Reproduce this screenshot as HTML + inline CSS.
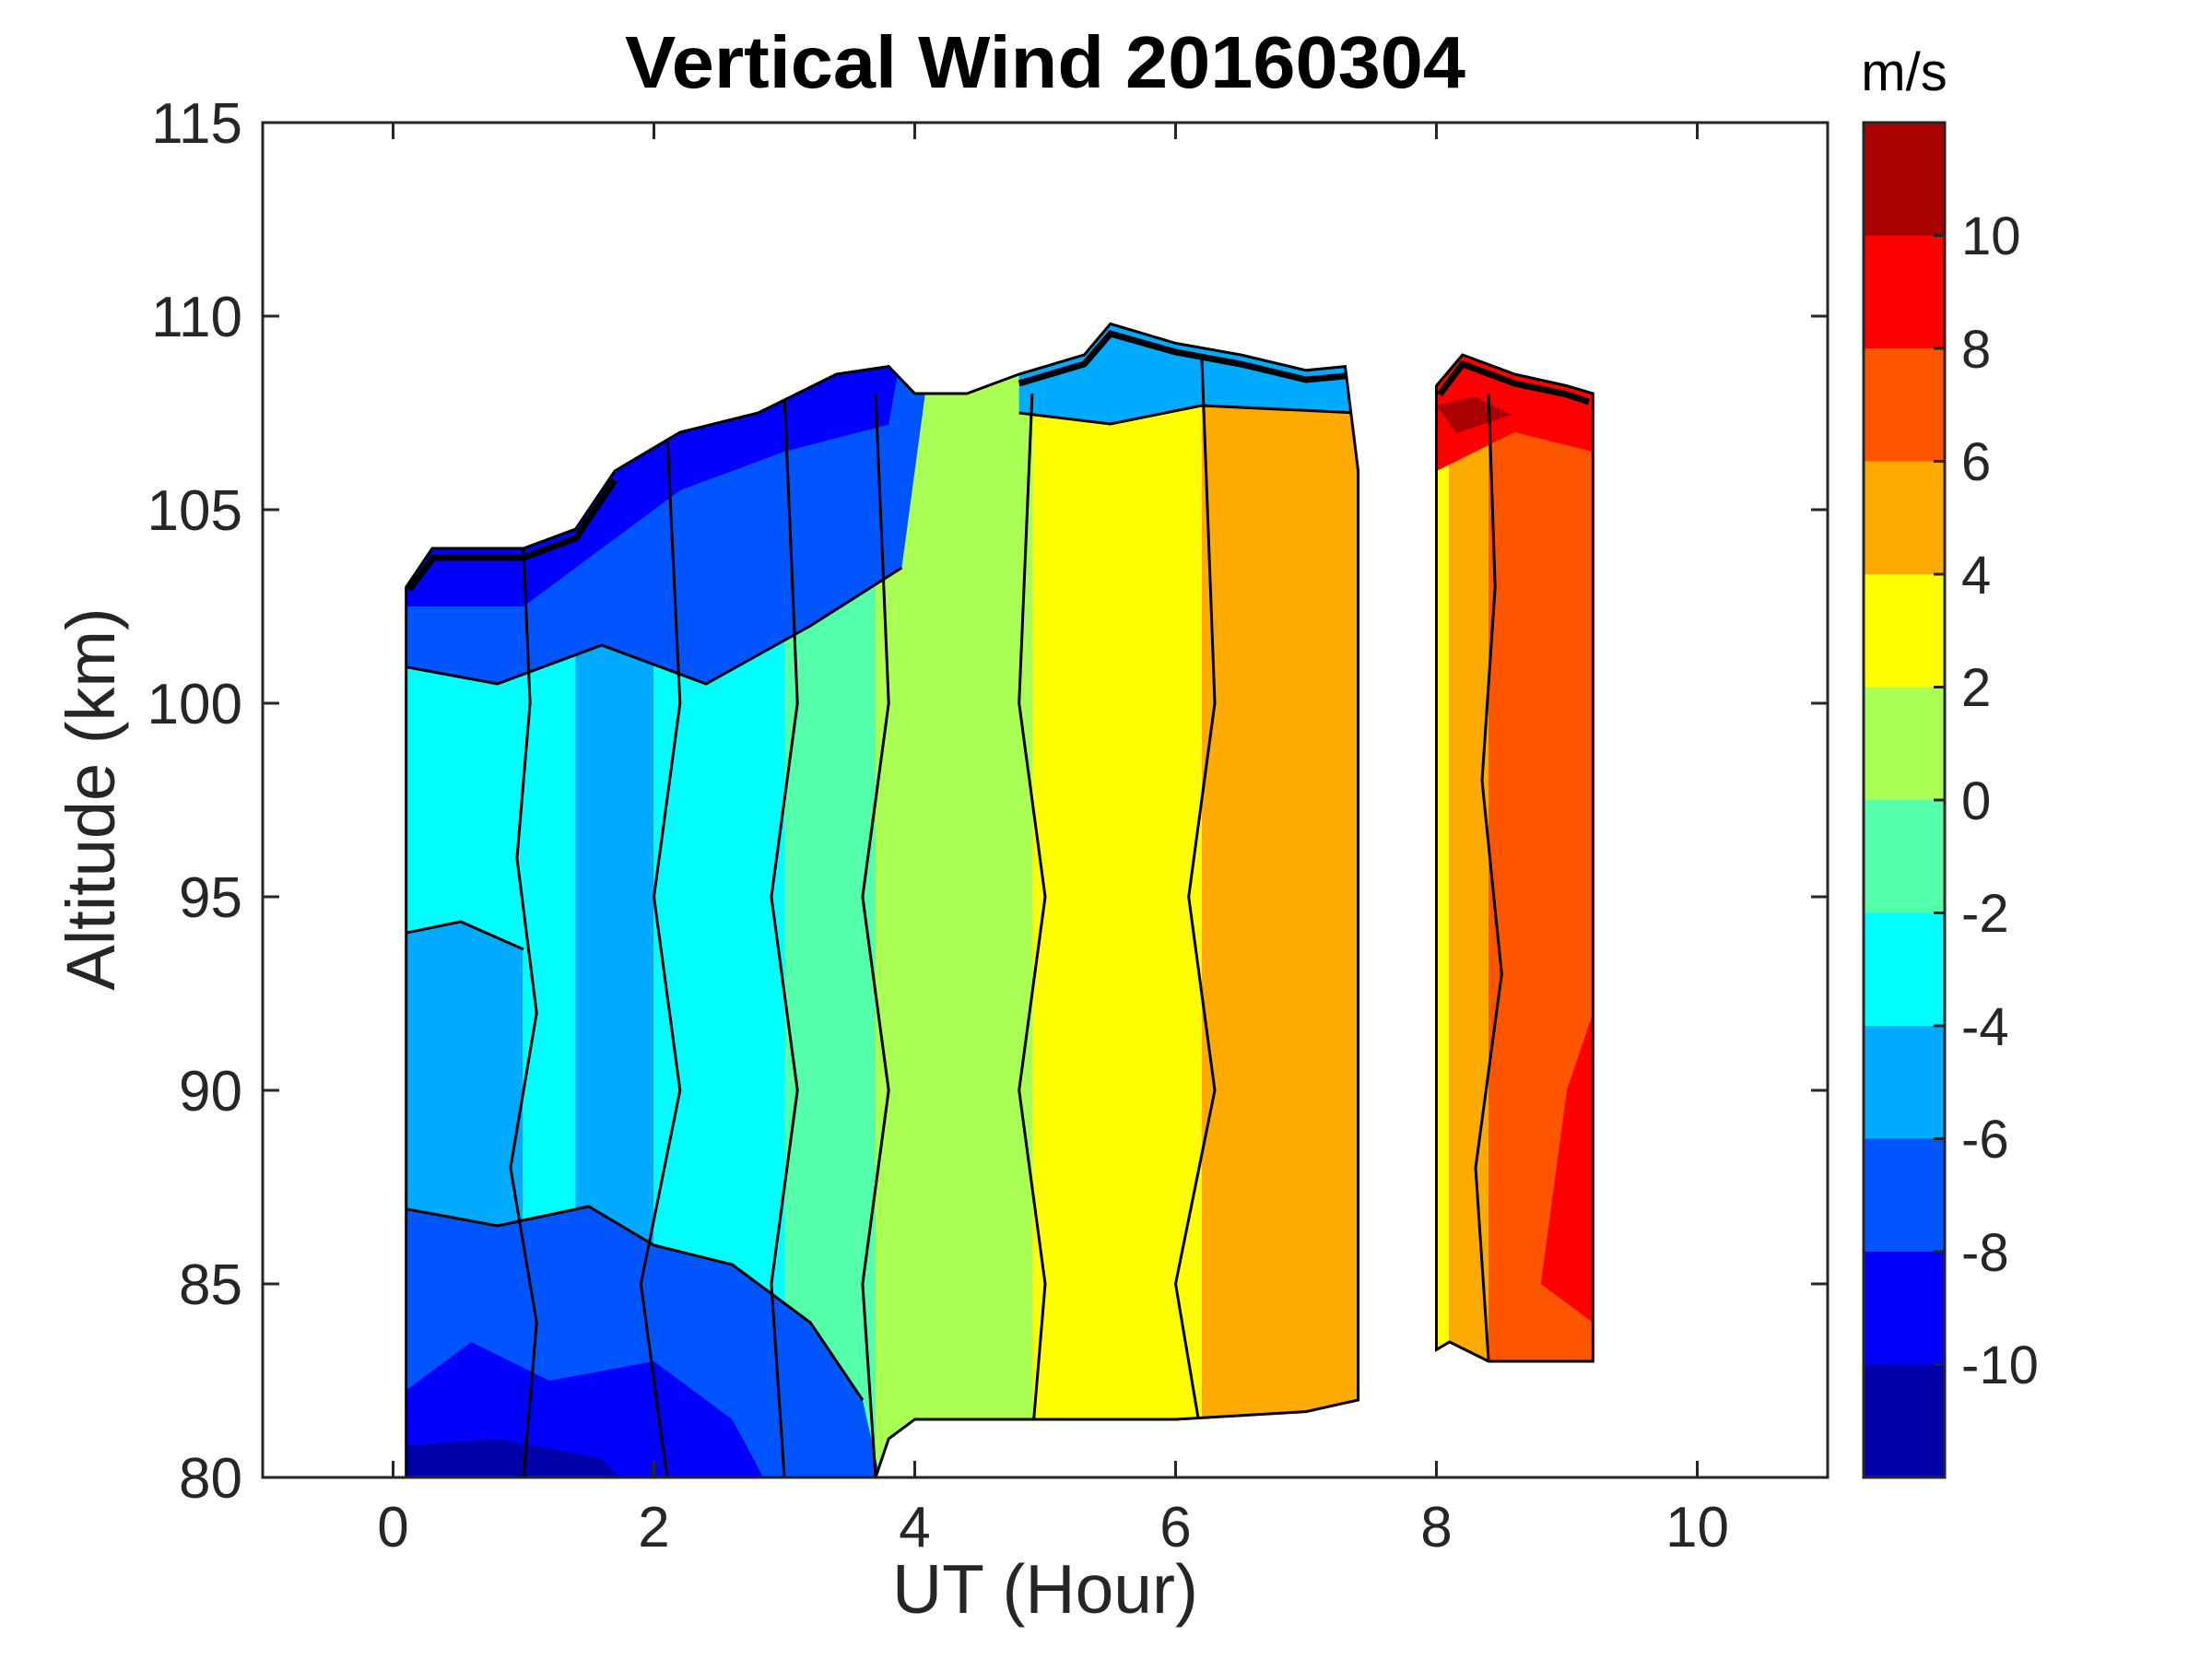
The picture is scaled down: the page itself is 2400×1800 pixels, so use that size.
<!DOCTYPE html>
<html><head><meta charset="utf-8"><style>html,body{margin:0;padding:0;background:#fff}svg{display:block}</style></head>
<body>
<svg width="2400" height="1800" xmlns="http://www.w3.org/2000/svg" font-family="Liberation Sans, sans-serif">
<rect width="2400" height="1800" fill="#fff"/>
<defs>
<linearGradient id="g" gradientUnits="userSpaceOnUse" x1="426.5" y1="0" x2="1728.3" y2="0">
<stop offset="0" stop-color="#00aaff"/><stop offset="0.108" stop-color="#00aaff"/>
<stop offset="0.108" stop-color="#00ffff"/><stop offset="0.152" stop-color="#00ffff"/>
<stop offset="0.152" stop-color="#00aaff"/><stop offset="0.217" stop-color="#00aaff"/>
<stop offset="0.217" stop-color="#00ffff"/><stop offset="0.326" stop-color="#00ffff"/>
<stop offset="0.326" stop-color="#55ffaa"/><stop offset="0.402" stop-color="#55ffaa"/>
<stop offset="0.402" stop-color="#aaff55"/><stop offset="0.533" stop-color="#aaff55"/>
<stop offset="0.533" stop-color="#ffff00"/><stop offset="0.674" stop-color="#ffff00"/>
<stop offset="0.674" stop-color="#ffaa00"/><stop offset="0.87" stop-color="#ffaa00"/>
<stop offset="0.87" stop-color="#ffff00"/><stop offset="0.88" stop-color="#ffff00"/>
<stop offset="0.88" stop-color="#ffaa00"/><stop offset="0.913" stop-color="#ffaa00"/>
<stop offset="0.913" stop-color="#ff5500"/><stop offset="1" stop-color="#ff5500"/>
</linearGradient>
<clipPath id="c1">
<polygon points="440.7,1603 440.7,637 469,595 568,595 624.6,574 667.1,511 737.8,469 822.7,448 907.6,406 964.2,397.6 992.5,427 1049.1,427 1105.7,406 1176.5,385 1204.8,351.4 1275.5,372.4 1346.3,385 1417,401.8 1459.5,397.6 1473.6,511 1473.6,1519 1417,1531.6 1275.5,1540 992.5,1540 964.2,1561 950,1603"/>
<polygon points="1558.5,1464.4 1558.5,418.6 1586.8,385 1643.4,406 1700,418.6 1728.3,427 1728.3,1477 1615.1,1477 1572.7,1456"/>
</clipPath>
</defs>
<g clip-path="url(#c1)">
<rect x="400" y="100" width="1400" height="1530" fill="url(#g)"/>
<polygon points="426.5,1015 500,1000 568,1030 575,721 426.5,721" fill="#00ffff"/>
<polygon points="426.5,1645 964.2,1645 935.9,1519 879.3,1435 794.4,1372 709.5,1351 638.8,1309 539.7,1330 426.5,1309" fill="#0055ff"/>
<polygon points="426.5,1645 851,1645 794.4,1540 709.5,1477 596.3,1498 511.4,1456 426.5,1519" fill="#0000ff"/>
<polygon points="426.5,1645 709.5,1645 652.9,1582 539.7,1561 426.5,1569.4" fill="#0000aa"/>
<polygon points="426.5,721 539.7,742 652.9,700 766.1,742 879.3,679 978.4,616 1020.8,301 426.5,301" fill="#0055ff"/>
<polygon points="426.5,658 568,658 652.9,595 737.8,532 851,490 964.2,460.6 992.5,301 426.5,301" fill="#0000ff"/>
<polygon points="1105.7,448 1204.8,460 1303.8,440 1473.6,448 1473.6,301 1105.7,301" fill="#00aaff"/>
<polygon points="1558.5,511 1643.4,469 1728.3,490 1728.3,301 1558.5,301" fill="#ff0000"/>
<polygon points="1558.5,440 1600,430 1640,450 1580,470" fill="#aa0000"/>
<polygon points="1671.8,1393 1728.3,1435 1728.3,1099 1700,1183" fill="#ff0000"/>
<g fill="none" stroke="#000" stroke-width="3">
<polyline points="568,1603 582.2,1435 553.9,1267 582.2,1099 560.9,931 575.1,763 568,595"/>
<polyline points="723.7,1603 695.4,1393 737.8,1183 709.5,973 737.8,763 723.7,469"/>
<polyline points="851,1603 836.9,1393 865.2,1183 836.9,973 865.2,763 851,427"/>
<polyline points="950,1603 935.9,1393 964.2,1183 935.9,973 964.2,763 950,427"/>
<polyline points="1119.9,1561 1134,1393 1105.7,1183 1134,973 1105.7,763 1119.9,427"/>
<polyline points="1303.8,1561 1275.5,1393 1318,1183 1289.7,973 1318,763 1303.8,385"/>
<polyline points="1615.1,1477 1601,1267 1629.3,1057 1608,847 1622.2,637 1615.1,427"/>
<polyline points="426.5,1309 539.7,1330 638.8,1309 709.5,1351 794.4,1372 879.3,1435 935.9,1519"/>
<polyline points="426.5,721 539.7,742 652.9,700 766.1,742 879.3,679 978.4,616"/>
<polyline points="1105.7,448 1204.8,460 1303.8,440 1473.6,448"/>
<polyline points="426.5,1015 500,1000 568,1030"/>
</g>
</g>
<g fill="none" stroke="#000" stroke-width="3">
<polygon points="440.7,1603 440.7,637 469,595 568,595 624.6,574 667.1,511 737.8,469 822.7,448 907.6,406 964.2,397.6 992.5,427 1049.1,427 1105.7,406 1176.5,385 1204.8,351.4 1275.5,372.4 1346.3,385 1417,401.8 1459.5,397.6 1473.6,511 1473.6,1519 1417,1531.6 1275.5,1540 992.5,1540 964.2,1561 950,1603"/>
<polygon points="1558.5,1464.4 1558.5,418.6 1586.8,385 1643.4,406 1700,418.6 1728.3,427 1728.3,1477 1615.1,1477 1572.7,1456"/>
</g>
<g fill="none" stroke="#000" stroke-width="7">
<polyline points="444,640 470,605 568,605 624.6,584 667.1,521"/>
<polyline points="1105.7,416 1176.5,395 1204.8,362 1275.5,382 1346.3,395 1417,412 1459.5,408"/>
<polyline points="1562,428 1586.8,395 1643.4,416 1700,428 1724,436"/>
</g>
<rect x="285" y="133" width="1698" height="1470" fill="none" stroke="#262626" stroke-width="3"/>
<g stroke="#262626" stroke-width="3">
<line x1="426.5" y1="1603" x2="426.5" y2="1585"/><line x1="709.5" y1="1603" x2="709.5" y2="1585"/><line x1="992.5" y1="1603" x2="992.5" y2="1585"/><line x1="1275.5" y1="1603" x2="1275.5" y2="1585"/><line x1="1558.5" y1="1603" x2="1558.5" y2="1585"/><line x1="1841.5" y1="1603" x2="1841.5" y2="1585"/>
<line x1="426.5" y1="133" x2="426.5" y2="151"/><line x1="709.5" y1="133" x2="709.5" y2="151"/><line x1="992.5" y1="133" x2="992.5" y2="151"/><line x1="1275.5" y1="133" x2="1275.5" y2="151"/><line x1="1558.5" y1="133" x2="1558.5" y2="151"/><line x1="1841.5" y1="133" x2="1841.5" y2="151"/>
<line x1="285" y1="1393" x2="303" y2="1393"/><line x1="285" y1="1183" x2="303" y2="1183"/><line x1="285" y1="973" x2="303" y2="973"/><line x1="285" y1="763" x2="303" y2="763"/><line x1="285" y1="553" x2="303" y2="553"/><line x1="285" y1="343" x2="303" y2="343"/>
<line x1="1983" y1="1393" x2="1965" y2="1393"/><line x1="1983" y1="1183" x2="1965" y2="1183"/><line x1="1983" y1="973" x2="1965" y2="973"/><line x1="1983" y1="763" x2="1965" y2="763"/><line x1="1983" y1="553" x2="1965" y2="553"/><line x1="1983" y1="343" x2="1965" y2="343"/>
</g>
<g font-size="62" fill="#262626" text-anchor="end">
<text x="263" y="1625">80</text><text x="263" y="1415">85</text><text x="263" y="1205">90</text><text x="263" y="995">95</text><text x="263" y="785">100</text><text x="263" y="575">105</text><text x="263" y="365">110</text><text x="263" y="155">115</text>
</g>
<g font-size="62" fill="#262626" text-anchor="middle">
<text x="426.5" y="1678">0</text><text x="709.5" y="1678">2</text><text x="992.5" y="1678">4</text><text x="1275.5" y="1678">6</text><text x="1558.5" y="1678">8</text><text x="1841.5" y="1678">10</text>
<text x="1134" y="1750" font-size="75">UT (Hour)</text>
<text transform="translate(124,867) rotate(-90)" font-size="74">Altitude (km)</text>
<text x="1134" y="95" font-size="80" font-weight="bold" fill="#000" textLength="912" lengthAdjust="spacingAndGlyphs">Vertical Wind 20160304</text>
<text x="2066" y="98" font-size="58" fill="#000">m/s</text>
</g>
<g>
<rect x="2022" y="133" width="88" height="122.5" fill="#aa0000"/>
<rect x="2022" y="255.5" width="88" height="122.5" fill="#ff0000"/>
<rect x="2022" y="378" width="88" height="122.5" fill="#ff5500"/>
<rect x="2022" y="500.5" width="88" height="122.5" fill="#ffaa00"/>
<rect x="2022" y="623" width="88" height="122.5" fill="#ffff00"/>
<rect x="2022" y="745.5" width="88" height="122.5" fill="#aaff55"/>
<rect x="2022" y="868" width="88" height="122.5" fill="#55ffaa"/>
<rect x="2022" y="990.5" width="88" height="122.5" fill="#00ffff"/>
<rect x="2022" y="1113" width="88" height="122.5" fill="#00aaff"/>
<rect x="2022" y="1235.5" width="88" height="122.5" fill="#0055ff"/>
<rect x="2022" y="1358" width="88" height="122.5" fill="#0000ff"/>
<rect x="2022" y="1480.5" width="88" height="122.5" fill="#0000aa"/>
<rect x="2022" y="133" width="88" height="1470" fill="none" stroke="#262626" stroke-width="3"/>
</g>
<g stroke="#262626" stroke-width="3">
<line x1="2110" y1="255.5" x2="2098" y2="255.5"/><line x1="2110" y1="378" x2="2098" y2="378"/><line x1="2110" y1="500.5" x2="2098" y2="500.5"/><line x1="2110" y1="623" x2="2098" y2="623"/><line x1="2110" y1="745.5" x2="2098" y2="745.5"/><line x1="2110" y1="868" x2="2098" y2="868"/><line x1="2110" y1="990.5" x2="2098" y2="990.5"/><line x1="2110" y1="1113" x2="2098" y2="1113"/><line x1="2110" y1="1235.5" x2="2098" y2="1235.5"/><line x1="2110" y1="1358" x2="2098" y2="1358"/><line x1="2110" y1="1480.5" x2="2098" y2="1480.5"/>
</g>
<g font-size="58" fill="#262626">
<text x="2128" y="276">10</text><text x="2128" y="399">8</text><text x="2128" y="521">6</text><text x="2128" y="644">4</text><text x="2128" y="766">2</text><text x="2128" y="889">0</text><text x="2128" y="1011">-2</text><text x="2128" y="1134">-4</text><text x="2128" y="1256">-6</text><text x="2128" y="1379">-8</text><text x="2128" y="1501">-10</text>
</g>
</svg>
</body></html>
